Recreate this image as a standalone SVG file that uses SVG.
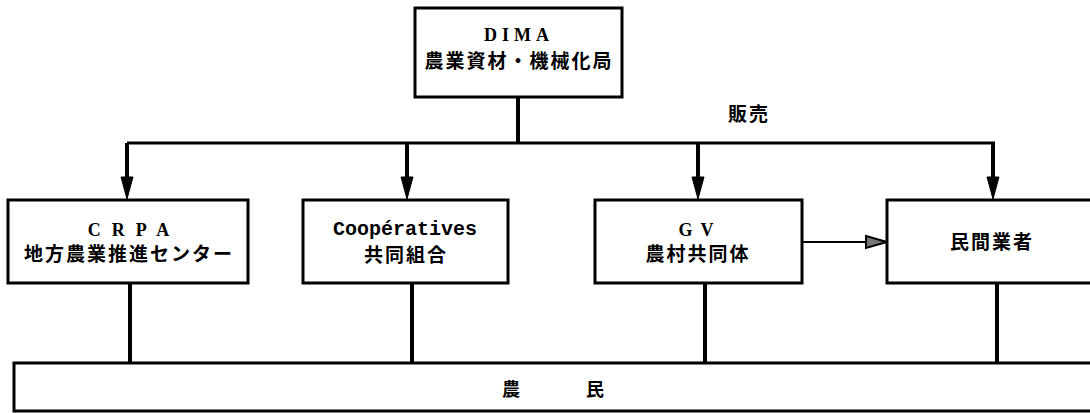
<svg xmlns="http://www.w3.org/2000/svg" width="1090" height="413" viewBox="0 0 1090 413">
<style>
.box{fill:#fff;stroke:#000;stroke-width:3}
.ln{fill:none;stroke:#000;stroke-width:4}
.hl{fill:none;stroke:#000;stroke-width:3}
.ah{fill:#000;stroke:#000;stroke-width:1}
.lat{font-family:"Liberation Serif",serif;font-weight:bold;font-size:18px;fill:#000;text-anchor:middle}
.mono{font-family:"Liberation Mono",monospace;font-weight:bold;font-size:20px;fill:#000;text-anchor:middle}
.jp{font-family:"Noto Sans CJK JP",sans-serif;font-weight:bold;font-size:19px;letter-spacing:2px;fill:#000;text-anchor:middle}
</style>
<rect width="1090" height="413" fill="#fff"/>
<g id="connectors">
  <path class="ln" d="M518,97 V143"/>
  <path class="hl" d="M127,143 H995"/>
  <path class="ln" d="M127,143 V180 M407,143 V180 M698,143 V180 M993,143 V180"/>
  <polygon class="ah" points="121,177 133,177 127,199"/>
  <polygon class="ah" points="401,177 413,177 407,199"/>
  <polygon class="ah" points="692,177 704,177 698,199"/>
  <polygon class="ah" points="987,177 999,177 993,199"/>
  <path fill="none" stroke="#000" stroke-width="2" d="M802,242 H868"/>
  <polygon points="866,236 887,242 866,248" fill="#777" stroke="#000" stroke-width="2"/>
  <path class="ln" d="M130,283 V363 M412,283 V363 M705,283 V363 M997,283 V363"/>
  <text x="749" y="121" class="jp">販売</text>
</g>
<g id="dima">
  <rect class="box" x="415" y="8" width="207" height="89"/>
  <text x="519" y="41" class="lat" style="letter-spacing:5px">DIMA</text>
  <text x="519" y="68" class="jp">農業資材・機械化局</text>
</g>
<g id="crpa">
  <rect class="box" x="8" y="200" width="240" height="83"/>
  <text x="134" y="236" class="lat" style="letter-spacing:11px">CRPA</text>
  <text x="129" y="261" class="jp">地方農業推進センター</text>
</g>
<g id="coop">
  <rect class="box" x="303" y="200" width="205" height="83"/>
  <text x="405" y="235" class="mono">Coopératives</text>
  <text x="406" y="262" class="jp">共同組合</text>
</g>
<g id="gv">
  <rect class="box" x="595" y="200" width="207" height="83"/>
  <text x="700" y="236" class="lat" style="letter-spacing:8px">GV</text>
  <text x="698" y="261" class="jp">農村共同体</text>
</g>
<g id="private">
  <rect class="box" x="887" y="200" width="215" height="83"/>
  <text x="992" y="249" class="jp">民間業者</text>
</g>
<g id="farmers">
  <rect class="box" x="14" y="363" width="1090" height="48"/>
  <text x="586" y="396" class="jp" style="font-size:18px;letter-spacing:66px">農民</text>
</g>
</svg>
